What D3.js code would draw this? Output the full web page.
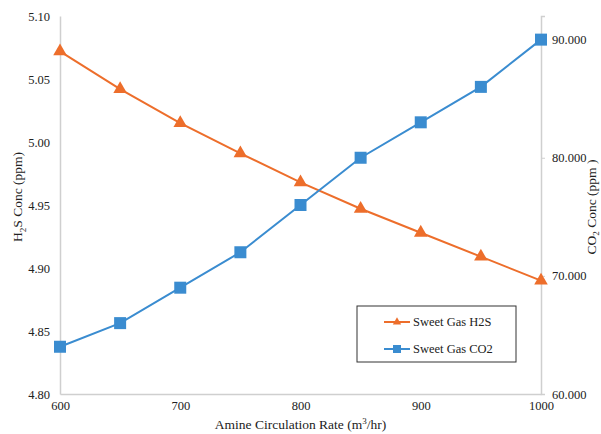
<!DOCTYPE html>
<html><head><meta charset="utf-8">
<script src="https://cdn.jsdelivr.net/npm/d3@7/dist/d3.min.js"></script>
<style>body{margin:0;background:#fff}svg{display:block}text{font-family:"Liberation Serif","Times New Roman",serif;fill:#222}</style>
</head><body><svg id="c" width="601" height="434"></svg>
<script>
const rates = [600, 650, 700, 750, 800, 850, 900, 950, 1000];
const h2s = [5.072, 5.042, 5.015, 4.991, 4.968, 4.947, 4.928, 4.909, 4.890];
const co2 = [64, 66, 69, 72, 76, 80, 83, 86, 90];
const xTicks = [600, 700, 800, 900, 1000];
const leftTicks = [4.80, 4.85, 4.90, 4.95, 5.00, 5.05, 5.10];
const rightTicks = [60, 70, 80, 90];

const svg = d3.select("#c");
const L = 60, R = 541, T = 16, B = 394;
const x = d3.scaleLinear().domain([600, 1000]).range([L, R]);
const yL = d3.scaleLinear().domain([4.80, 5.10]).range([B, T]);
const yR = d3.scaleLinear().domain([60, 92]).range([B, T]);
const axisCol = "#cfcfcf";
const orange = "#ED6E2B", blue = "#3A8CD0";

// axes
const gx = svg.append("g").attr("transform", `translate(0,${B})`)
  .call(d3.axisBottom(x).tickValues(xTicks).tickSize(0).tickPadding(7).tickFormat(d3.format("d")));
const gl = svg.append("g").attr("transform", `translate(${L},0)`)
  .call(d3.axisLeft(yL).tickValues(leftTicks).tickSize(0).tickPadding(10).tickFormat(d3.format(".2f")));
const gr = svg.append("g").attr("transform", `translate(${R},0)`)
  .call(d3.axisRight(yR).tickValues(rightTicks).tickSize(4).tickPadding(7).tickFormat(d3.format(".3f")));
[gx, gl, gr].forEach(g => {
  g.attr("font-family", null);
  g.select(".domain").attr("stroke", axisCol).attr("stroke-width", 1.5);
  g.selectAll(".tick line").attr("stroke", axisCol);
  g.selectAll("text").attr("font-size", 12.5).attr("fill", "#222")
    .style("font-family", '"Liberation Serif","Times New Roman",serif');
});

// axis titles
svg.append("text").attr("x", (L + R) / 2).attr("y", 429).attr("text-anchor", "middle")
  .attr("font-size", 13.5).html('Amine Circulation Rate (m<tspan font-size="9" dy="-5">3</tspan><tspan dy="5">/hr)</tspan>');
svg.append("text").attr("transform", "translate(22,197) rotate(-90)").attr("text-anchor", "middle")
  .attr("font-size", 13.5).html('H<tspan font-size="9" dy="4">2</tspan><tspan dy="-4">S Conc (ppm)</tspan>');
svg.append("text").attr("transform", "translate(596,207) rotate(-90)").attr("text-anchor", "middle")
  .attr("font-size", 13.5).html('CO<tspan font-size="9" dy="3">2</tspan><tspan dy="-3"> Conc (ppm )</tspan>');

// lines
const lineL = d3.line().x((d, i) => x(rates[i])).y(d => yL(d));
const lineR = d3.line().x((d, i) => x(rates[i])).y(d => yR(d));
svg.append("path").datum(h2s).attr("d", lineL).attr("fill", "none").attr("stroke", orange).attr("stroke-width", 2);
svg.append("path").datum(co2).attr("d", lineR).attr("fill", "none").attr("stroke", blue).attr("stroke-width", 2);

const tri = d3.symbol().type(d3.symbolTriangle).size(80);
svg.append("g").selectAll("path").data(h2s).join("path")
  .attr("d", tri).attr("transform", (d, i) => `translate(${x(rates[i])},${yL(d)})`).attr("fill", orange);
svg.append("g").selectAll("rect").data(co2).join("rect")
  .attr("x", (d, i) => x(rates[i]) - 6).attr("y", d => yR(d) - 6).attr("width", 12).attr("height", 12).attr("fill", blue);

// legend
const lg = svg.append("g");
lg.append("rect").attr("x", 357).attr("y", 306).attr("width", 159).attr("height", 56)
  .attr("fill", "#fff").attr("stroke", "#333").attr("stroke-width", 1);
const items = [{name: "Sweet Gas H2S", c: orange, m: "tri"}, {name: "Sweet Gas CO2", c: blue, m: "sq"}];
items.forEach((it, i) => {
  const yy = 322 + i * 27;
  lg.append("line").attr("x1", 384).attr("x2", 410).attr("y1", yy).attr("y2", yy).attr("stroke", it.c).attr("stroke-width", 2);
  if (it.m === "tri") lg.append("path").attr("d", d3.symbol().type(d3.symbolTriangle).size(30)).attr("transform", `translate(397,${yy})`).attr("fill", it.c);
  else lg.append("rect").attr("x", 393).attr("y", yy - 4).attr("width", 8).attr("height", 8).attr("fill", it.c);
  lg.append("text").attr("x", 413).attr("y", yy + 4).attr("font-size", 12.5).text(it.name);
});
</script></body></html>
